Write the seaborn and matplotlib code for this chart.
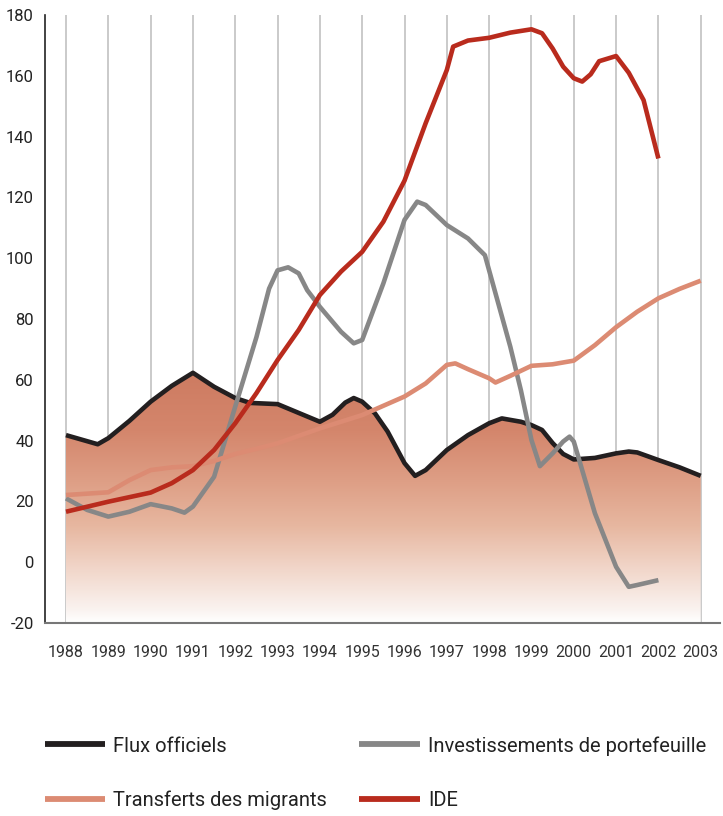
import numpy as np
import pandas as pd
import matplotlib
matplotlib.use("Agg")
import matplotlib.pyplot as plt
from matplotlib.colors import LinearSegmentedColormap
from matplotlib.lines import Line2D
import seaborn as sns

flux_x = [1988, 1988.4, 1988.75, 1989, 1989.5, 1990, 1990.5, 1991, 1991.5, 1992, 1992.35, 1993,
          1993.5, 1994, 1994.3, 1994.6, 1994.8, 1995, 1995.3, 1995.6, 1996, 1996.25, 1996.5,
          1997, 1997.5, 1998, 1998.3, 1998.75, 1999, 1999.25, 1999.5, 1999.75, 2000, 2000.5,
          2001, 2001.3, 2001.5, 2002, 2002.5, 2003]
flux_y = [41.8, 40.2, 38.8, 40.8, 46.5, 52.8, 58.0, 62.3, 57.7, 54.0, 52.4, 52.0,
          49.1, 46.2, 48.5, 52.5, 54.0, 52.8, 49.0, 43.0, 32.6, 28.4, 30.3,
          36.9, 41.8, 45.7, 47.3, 46.2, 45.1, 43.5, 39.2, 35.6, 33.8, 34.3,
          35.8, 36.4, 36.1, 33.6, 31.2, 28.4]

migr_x = [1988, 1989, 1989.5, 1990, 1990.5, 1991, 1991.5, 1992, 1992.5, 1993, 1994, 1995,
          1996, 1996.5, 1997, 1997.2, 1997.5, 1998, 1998.15, 1998.5, 1999, 1999.5, 2000,
          2000.5, 2001, 2001.5, 2002, 2002.5, 2003]
migr_y = [22.1, 23.0, 27.0, 30.3, 31.2, 31.6, 33.3, 35.6, 37.3, 39.1, 44.0, 48.4,
          54.5, 58.8, 64.9, 65.4, 63.5, 60.5, 59.1, 61.3, 64.6, 65.1, 66.3,
          71.4, 77.3, 82.4, 86.8, 89.9, 92.6]

ide_x = [1988, 1989, 1990, 1990.5, 1991, 1991.5, 1992, 1992.5, 1993, 1993.5, 1994, 1994.5,
         1995, 1995.5, 1996, 1996.5, 1997, 1997.15, 1997.5, 1998, 1998.5, 1999, 1999.25,
         1999.5, 1999.75, 2000, 2000.2, 2000.4, 2000.6, 2001, 2001.3, 2001.65, 2002]
ide_y = [16.6, 19.9, 22.9, 26.0, 30.3, 36.9, 45.7, 55.6, 66.5, 76.4, 87.9, 95.6,
         102.1, 112.0, 125.5, 144.4, 161.9, 169.6, 171.6, 172.5, 174.2, 175.3, 174.0,
         169.0, 163.0, 159.2, 158.1, 160.5, 164.8, 166.5, 161.0, 152.0, 132.8]

port_x = [1988, 1988.5, 1989, 1989.5, 1990, 1990.5, 1990.8, 1991, 1991.5, 1992, 1992.5,
          1992.8, 1993.0, 1993.25, 1993.5, 1993.7, 1994, 1994.5, 1994.8, 1995, 1995.5, 1996,
          1996.3, 1996.5, 1997, 1997.5, 1997.9, 1998.5, 1998.75, 1999, 1999.2, 1999.5, 1999.75,
          1999.9, 2000, 2000.5, 2001, 2001.3, 2001.5, 2002]
port_y = [21.0, 17.2, 15.0, 16.6, 19.1, 17.7, 16.3, 18.3, 28.1, 51.2, 74.0,
          90.0, 96.0, 97.0, 95.0, 89.5, 84.0, 75.8, 72.0, 73.1, 91.7, 112.6,
          118.6, 117.5, 110.9, 106.5, 101.0, 70.9, 56.6, 40.2, 31.6, 35.8, 39.7,
          41.3, 39.7, 16.1, -1.5, -8.1, -7.5, -5.9]

series_names = ["Flux officiels", "Investissements de portefeuille", "Transferts des migrants", "IDE"]
series_colors = ["#231f20", "#878787", "#dc8b73", "#b92b1d"]
years = list(range(1988, 2004))
y_ticks = list(range(-20, 181, 20))

df = pd.concat([
    pd.DataFrame({"annee": flux_x, "valeur": flux_y, "serie": series_names[0]}),
    pd.DataFrame({"annee": port_x, "valeur": port_y, "serie": series_names[1]}),
    pd.DataFrame({"annee": migr_x, "valeur": migr_y, "serie": series_names[2]}),
    pd.DataFrame({"annee": ide_x, "valeur": ide_y, "serie": series_names[3]}),
])

sns.set_style("white")
plt.rcParams["font.family"] = ["Roboto", "DejaVu Sans"]

fig = plt.figure(figsize=(7.23, 8.16), dpi=100)
ax = fig.add_axes([45 / 723, 1 - 623 / 816, 675 / 723, 608 / 816])

x0, x1 = 1987.504, 2003.456
ax.set_xlim(x0, x1)
ax.set_ylim(-20, 180)

# vertical grid at each year
for yr in years:
    ax.axvline(yr, color="#c6c6c6", lw=1.3, zorder=0)

# gradient area under Flux officiels
poly = ax.fill_between(flux_x, flux_y, -20, color="none", lw=0, zorder=1)
grad = LinearSegmentedColormap.from_list(
    "fill", [(0.0, "#ffffff"), (0.05, "#faf3f0"), (0.2, "#f2d8cc"),
             (0.38, "#e7b7a0"), (0.55, "#de9f86"), (0.75, "#d4866c"), (1.0, "#cd7a60")])
img = ax.imshow(np.linspace(0, 1, 256).reshape(-1, 1), cmap=grad, origin="lower",
                extent=[x0, x1, -20, 64], aspect="auto", zorder=1)
img.set_clip_path(poly.get_paths()[0], transform=ax.transData)
ax.set_xlim(x0, x1)
ax.set_ylim(-20, 180)

sns.lineplot(data=df, x="annee", y="valeur", hue="serie", hue_order=series_names,
             palette=series_colors, estimator=None, sort=True, lw=3.3,
             ax=ax, legend=False, zorder=3)
for ln in ax.get_lines():
    ln.set_solid_joinstyle("round")
    ln.set_solid_capstyle("butt")

ax.set_xticks(years)
ax.set_xticklabels([str(y) for y in years])
ax.set_yticks(y_ticks)
ax.set_yticklabels([str(v) for v in y_ticks])
ax.tick_params(axis="x", length=0, pad=16, labelsize=11.5, labelcolor="#333333")
ax.tick_params(axis="y", direction="in", length=12, width=1.2, color="#222222",
               pad=8, labelsize=12, labelcolor="#222222")
ax.set_xlabel("")
ax.set_ylabel("")

for s in ["top", "right"]:
    ax.spines[s].set_visible(False)
ax.spines["left"].set_color("#222222")
ax.spines["left"].set_linewidth(1.2)
ax.spines["bottom"].set_color("#777777")
ax.spines["bottom"].set_linewidth(1.5)

# legend under the chart
handles = [Line2D([], [], color=c, lw=4.2, solid_capstyle="butt") for c in series_colors]
order = [0, 2, 1, 3]
fig.legend([handles[i] for i in order], [series_names[i] for i in order],
           loc="upper left", bbox_to_anchor=(45 / 723, 1 - 736 / 816), ncol=2,
           frameon=False, fontsize=14.5, handlelength=3.0, handletextpad=0.4,
           columnspacing=1.6, labelspacing=1.75, borderpad=0, borderaxespad=0,
           labelcolor="#222222")

fig.savefig("out.png", dpi=100)
